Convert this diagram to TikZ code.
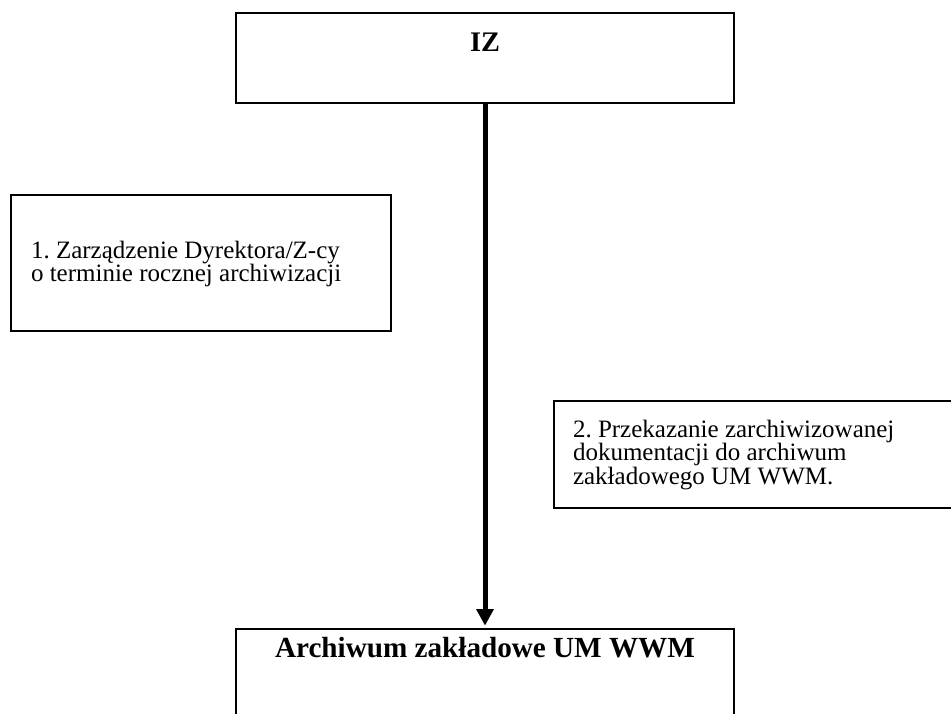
\documentclass[tikz,border=0pt]{standalone}
\usepackage{fontspec}
\setmainfont{Liberation Serif}
\usetikzlibrary{positioning, arrows.meta}
\frenchspacing

\begin{document}
\begin{tikzpicture}[
  x=0.6pt, y=-0.6pt,
  every node/.style={inner sep=0pt, outer sep=0pt},
  box/.style={draw, line width=1.2pt, anchor=north west},
  txt/.style={font=\fontsize{15}{14.1}\selectfont, align=left, anchor=base west},
  head/.style={font=\fontsize{17}{20}\selectfont\bfseries, anchor=base},
  arr/.style={-{Triangle[length=10pt, width=10pt]}, line width=3pt}
]
\useasboundingbox (0,0) rectangle (951,713);
\clip (0,0) rectangle (951,713);

%% 1. IZ
\node[box, minimum width=298.8pt, minimum height=54pt] (iz) at (236,13) {};
\node[head] (izlabel) at (485,51) {IZ};

%% 2. Zarzadzenie (left)
\node[box, minimum width=228pt, minimum height=81.6pt] (zarz) at (11,195) {};
\node[txt] (zarztext) at (31,281.5)
  {1. Zarządzenie Dyrektora/Z-cy\\o terminie rocznej archiwizacji};

%% 3. Przekazanie (right)
\node[box, minimum width=245pt, minimum height=64.2pt] (przek) at (554,401) {};
\node[txt] (przektext) at (573,484)
  {2. Przekazanie zarchiwizowanej\\dokumentacji do archiwum\\zakładowego UM WWM.};

%% 4. Archiwum
\node[box, minimum width=298.8pt, minimum height=60pt] (arch) at (236,629) {};
\node[head, font=\fontsize{17.5}{20}\selectfont\bfseries] (archlabel) at (485,657)
  {Archiwum zakładowe UM WWM};

%% ---- Arrow ----
\draw[arr, shorten >=2pt] (iz.south) -- (arch.north);

\end{tikzpicture}
\end{document}
